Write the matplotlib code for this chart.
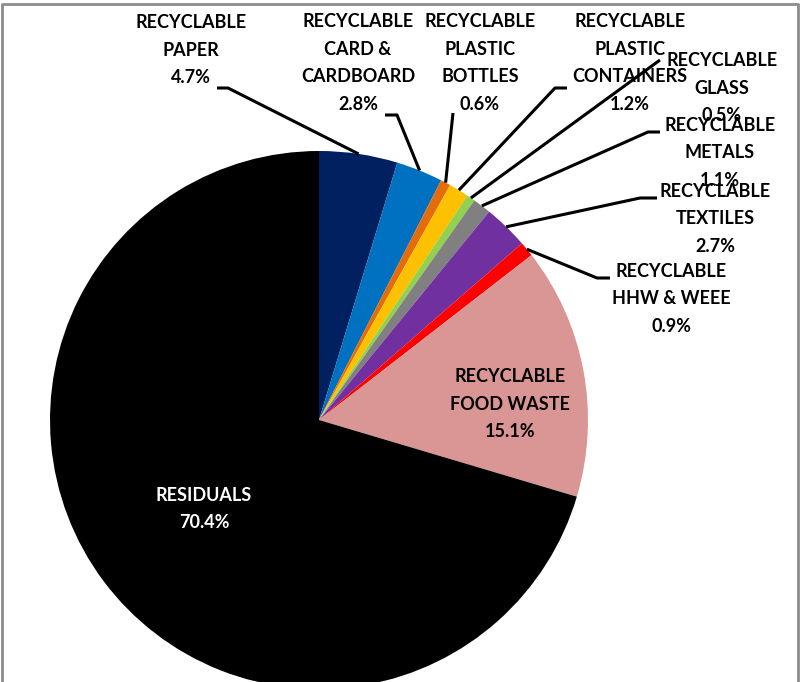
import matplotlib.pyplot as plt
import numpy as np

# waste composition shares (%)
categories = ['RECYCLABLE\nPAPER', 'RECYCLABLE\nCARD &\nCARDBOARD', 'RECYCLABLE\nPLASTIC\nBOTTLES',
              'RECYCLABLE\nPLASTIC\nCONTAINERS', 'RECYCLABLE\nGLASS', 'RECYCLABLE\nMETALS',
              'RECYCLABLE\nTEXTILES', 'RECYCLABLE\nHHW & WEEE', 'RECYCLABLE\nFOOD WASTE', 'RESIDUALS']
shares = [4.7, 2.8, 0.6, 1.2, 0.5, 1.1, 2.7, 0.9, 15.1, 70.4]
colors = ['#002060', '#0070C0', '#E46C0A', '#FFC000', '#92D050',
          '#808080', '#7030A0', '#FF0000', '#D99694', '#000000']

W, H = 801, 682
cx, cy, R = 319, 420, 269   # pie centre and radius in pixels

# label centres and leader elbows, in pixels
label_pos = [(191, 50), (358, 63), (480, 63), (630, 63), (722, 88),
             (720, 153), (715, 219), (671, 299), (510, 404), (204, 509)]
elbows = [[(217, 88), (228, 88)], [(385, 115), (397, 115)], [(453, 113)],
          [(567, 88), (555, 88)], [(660, 60)], [(660, 132), (648, 132)],
          [(657, 198), (640, 198)], [(610, 278), (597, 278)], None, None]

def px(x, y):
    return ((x - cx) / R, (cy - y) / R)

fig = plt.figure(figsize=(8.01, 6.82), dpi=100)
ax = fig.add_axes([0, 0, 1, 1])

wedges, _ = ax.pie(shares, colors=colors, startangle=90, counterclock=False,
                   radius=1, center=(0, 0), frame=False,
                   wedgeprops=dict(linewidth=0))
ax.set_xlim(-cx / R, (W - cx) / R)
ax.set_ylim(-(H - cy) / R, cy / R)
ax.axis('off')

for i, (w, cat, val) in enumerate(zip(wedges, categories, shares)):
    tx, ty = px(*label_pos[i])
    col = 'white' if cat == 'RESIDUALS' else 'black'
    ax.text(tx, ty, f'{cat}\n{val:.1f}%', ha='center', va='center', color=col,
            fontsize=13, fontweight='bold', family='Lato', linespacing=1.78)
    if elbows[i] is not None:
        mid = np.deg2rad((w.theta1 + w.theta2) / 2)
        pts = [px(*p) for p in elbows[i]] + [(np.cos(mid), np.sin(mid))]
        xs, ys = zip(*pts)
        ax.plot(xs, ys, color='black', lw=2.2, solid_capstyle='butt')

# chart area border
fx = [2 / W, 2 / W, 798 / W, 798 / W]
fy = [-0.1, 1 - 4 / H, 1 - 4 / H, -0.1]
fig.add_artist(plt.Line2D(fx, fy, color='#8c8c8c', lw=2, transform=fig.transFigure))

fig.savefig('out.png', dpi=100)
